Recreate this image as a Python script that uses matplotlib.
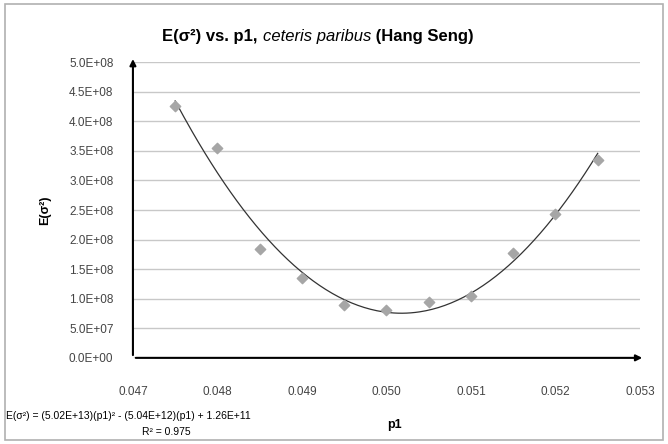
import numpy as np
import matplotlib.pyplot as plt
from matplotlib.patches import Rectangle

plt.rcParams['font.family'] = ['Liberation Sans', 'DejaVu Sans']

# data
p1 = [0.0475, 0.0480, 0.0485, 0.0490, 0.0495, 0.0500,
      0.0505, 0.0510, 0.0515, 0.0520, 0.0525]
e_sigma2 = [4.26e8, 3.55e8, 1.84e8, 1.35e8, 0.89e8, 0.81e8,
            0.94e8, 1.05e8, 1.78e8, 2.43e8, 3.35e8]
xticks = [0.047, 0.048, 0.049, 0.050, 0.051, 0.052, 0.053]
yticks = [0, 5e7, 1e8, 1.5e8, 2e8, 2.5e8, 3e8, 3.5e8, 4e8, 4.5e8, 5e8]
ytick_labels = ['0.0E+00', '5.0E+07', '1.0E+08', '1.5E+08', '2.0E+08', '2.5E+08',
                '3.0E+08', '3.5E+08', '4.0E+08', '4.5E+08', '5.0E+08']

fig = plt.figure(figsize=(6.68, 4.44), dpi=100)
fig.patches.append(Rectangle((0.008, 0.008), 0.985, 0.982, transform=fig.transFigure,
                             fill=False, edgecolor='#b0b0b0', linewidth=1.2))
ax = fig.add_axes([0.199, 0.194, 0.759, 0.666])

# quadratic trendline (fitted to the points)
c = np.polyfit(p1, e_sigma2, 2)
xs = np.linspace(p1[0], p1[-1], 200)
ax.plot(xs, np.polyval(c, xs), color='#333333', linewidth=0.9, zorder=3)
ax.scatter(p1, e_sigma2, marker='D', s=28, color='#a6a6a6', zorder=4)

ax.set_xlim(0.047, 0.053)
ax.set_ylim(0, 5e8)
ax.set_yticks(yticks)
ax.set_yticklabels(ytick_labels)
ax.set_xticks(xticks)
ax.set_xticklabels(['%.3f' % v for v in xticks])
ax.tick_params(length=0, labelsize=8.5, colors='#444444')
ax.tick_params(axis='y', pad=14)
ax.tick_params(axis='x', pad=20)
for s in ax.spines.values():
    s.set_visible(False)
ax.grid(axis='y', color='#c8c8c8', linewidth=1)

# arrow axes
ax.annotate('', xy=(0, 1.02), xytext=(0, 0), xycoords='axes fraction',
            arrowprops=dict(arrowstyle='-|>', color='black', lw=1.5, mutation_scale=9), zorder=5)
ax.annotate('', xy=(1.01, 0), xytext=(0, 0), xycoords='axes fraction',
            arrowprops=dict(arrowstyle='-|>', color='black', lw=1.5, mutation_scale=9), zorder=5)

# title in three styled parts placed side by side
parts = [('E(σ²) vs. p1, ', dict(fontweight='bold')),
         ('ceteris paribus', dict(fontstyle='italic')),
         (' (Hang Seng)', dict(fontweight='bold'))]
renderer = fig.canvas.get_renderer()
texts = []
for s, kw in parts:
    texts.append(fig.text(0, 0.918, s, fontsize=12, ha='left', va='center', **kw))
widths = [t.get_window_extent(renderer).width for t in texts]
x0 = 318 - sum(widths) / 2
for t, w in zip(texts, widths):
    t.set_x(x0 / 668)
    x0 += w

ax.set_ylabel('E(σ²)', fontsize=9, fontweight='bold', labelpad=13)
fig.text(0.59, 0.043, 'p1', fontsize=9, fontweight='bold', ha='center', va='center')
fig.text(0.009, 0.062, 'E(σ²) = (5.02E+13)(p1)² - (5.04E+12)(p1) + 1.26E+11',
         fontsize=7.5, ha='left', va='center')
fig.text(0.212, 0.026, 'R² = 0.975', fontsize=7.5, ha='left', va='center')

fig.savefig('out.png', dpi=100)
